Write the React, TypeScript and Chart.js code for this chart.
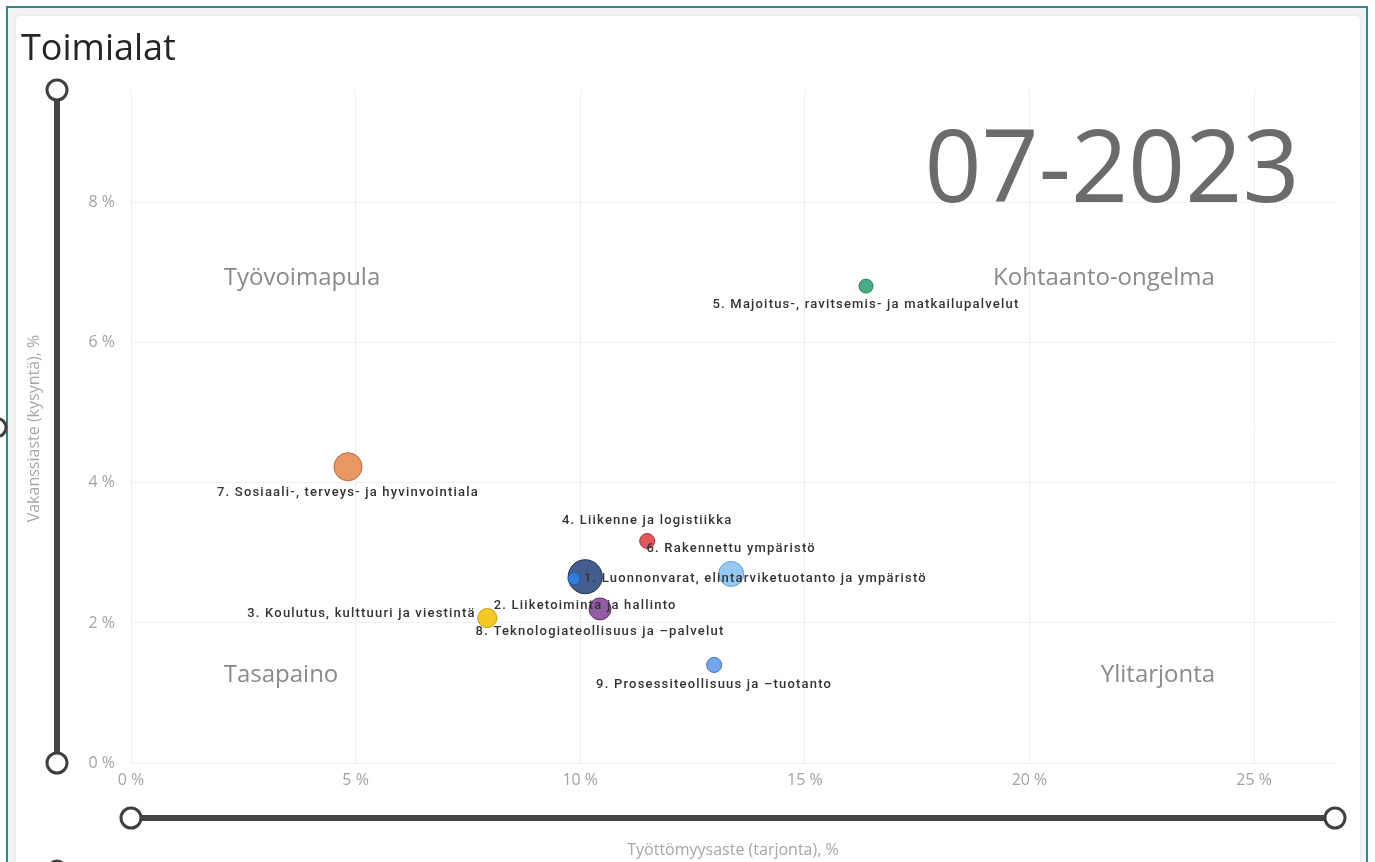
import React, { useEffect, useRef } from "react";
import { Chart, registerables } from "chart.js";

Chart.register(...registerables);

// ---------- data ----------
const industries = [
  "1. Luonnonvarat, elintarviketuotanto ja ympäristö",
  "2. Liiketoiminta ja hallinto",
  "3. Koulutus, kulttuuri ja viestintä",
  "4. Liikenne ja logistiikka",
  "5. Majoitus-, ravitsemis- ja matkailupalvelut",
  "6. Rakennettu ympäristö",
  "7. Sosiaali-, terveys- ja hyvinvointiala",
  "8. Teknologiateollisuus ja –palvelut",
  "9. Prosessiteollisuus ja –tuotanto",
];
const unemploymentRate = [9.86, 10.11, 7.93, 11.49, 16.36, 13.36, 4.83, 10.44, 12.98];
const vacancyRate = [2.63, 2.66, 2.07, 3.17, 6.81, 2.7, 4.23, 2.2, 1.4];
const bubbleSize = [6, 17, 9.5, 7.5, 7, 12.5, 14, 11, 7.5];
const fillColors = [
  "rgba(47,127,224,0.95)",
  "rgba(52,78,132,0.92)",
  "rgba(245,197,24,0.95)",
  "rgba(224,72,79,0.92)",
  "rgba(58,165,122,0.92)",
  "rgba(140,196,242,0.92)",
  "rgba(232,146,91,0.95)",
  "rgba(138,78,156,0.92)",
  "rgba(109,159,232,0.95)",
];
const borderColors = [
  "#1f5fb0", "#1d2d55", "#c79c00", "#a8323a", "#267d5a",
  "#5f9fd6", "#b8693a", "#5e2f70", "#3f6fc0",
];
const labelPlacement = ["right", "below", "left", "above", "below", "above", "below", "below", "below"];
const xTickValues = [0, 5, 10, 15, 20, 25];
const yTickValues = [0, 2, 4, 6, 8];
const xAxisMax = 26.8;
const yAxisMax = 9.61;
const xAxisTitle = "Työttömyysaste (tarjonta), %";
const yAxisTitle = "Vakanssiaste (kysyntä), %";
const chartTitle = "Toimialat";
const periodLabel = "07-2023";
const quadrantLabels = ["Työvoimapula", "Kohtaanto-ongelma", "Tasapaino", "Ylitarjonta"];

const W = 1375;
const H = 862;
const SANS = "'Open Sans', 'Segoe UI', sans-serif";
const LABEL_FONT = "500 13px Roboto, 'Open Sans', sans-serif";

function circle(ctx: CanvasRenderingContext2D, x: number, y: number, r: number) {
  ctx.beginPath();
  ctx.arc(x, y, r, 0, Math.PI * 2);
  ctx.fillStyle = "#ffffff";
  ctx.fill();
  ctx.lineWidth = 3;
  ctx.strokeStyle = "#3f3f3f";
  ctx.stroke();
}

const overlayPlugin = {
  id: "overlay",
  beforeDatasetsDraw(chart: any) {
    const { ctx, chartArea: a } = chart;
    ctx.save();
    // quadrant labels
    ctx.fillStyle = "#8a8a8a";
    ctx.font = `24px ${SANS}`;
    ctx.textAlign = "center";
    ctx.textBaseline = "alphabetic";
    ctx.fillText(quadrantLabels[0], a.left + 171, a.top + 195);
    ctx.fillText(quadrantLabels[1], a.right - 231, a.top + 195);
    ctx.fillText(quadrantLabels[2], a.left + 150, a.bottom - 81);
    ctx.fillText(quadrantLabels[3], a.right - 177, a.bottom - 81);
    // period
    ctx.fillStyle = "#6b6b6b";
    ctx.font = `100px ${SANS}`;
    ctx.fillText(periodLabel, a.right - 223, a.top + 112);
    ctx.restore();
  },
  afterDatasetsDraw(chart: any) {
    const { ctx } = chart;
    const xs = chart.scales.x;
    const ys = chart.scales.y;
    ctx.save();
    ctx.font = LABEL_FONT;
    (ctx as any).letterSpacing = "1.2px";
    ctx.fillStyle = "#333333";
    ctx.textBaseline = "middle";
    industries.forEach((name, i) => {
      const px = xs.getPixelForValue(unemploymentRate[i]);
      const py = ys.getPixelForValue(vacancyRate[i]);
      const r = bubbleSize[i];
      const p = labelPlacement[i];
      if (p === "below") {
        ctx.textAlign = "center";
        ctx.fillText(name, px, py + r + 12);
      } else if (p === "above") {
        ctx.textAlign = "center";
        ctx.fillText(name, px, py - r - 13);
      } else if (p === "left") {
        ctx.textAlign = "right";
        ctx.fillText(name, px - r - 2, py - 4);
      } else {
        ctx.textAlign = "left";
        ctx.fillText(name, px + r + 4, py);
      }
    });
    ctx.restore();
  },
  afterDraw(chart: any) {
    const { ctx, chartArea: a } = chart;
    ctx.save();
    // title
    ctx.fillStyle = "#252525";
    ctx.font = `36px ${SANS}`;
    ctx.textAlign = "left";
    ctx.textBaseline = "alphabetic";
    ctx.fillText(chartTitle, 21, 60);
    // axis titles
    ctx.fillStyle = "#a6a6a6";
    ctx.font = `16px ${SANS}`;
    ctx.textAlign = "center";
    ctx.textBaseline = "middle";
    ctx.fillText(xAxisTitle, (a.left + a.right) / 2, 850);
    ctx.save();
    ctx.translate(34, (a.top + a.bottom) / 2 + 2);
    ctx.rotate(-Math.PI / 2);
    ctx.fillText(yAxisTitle, 0, 0);
    ctx.restore();
    // vertical slider
    ctx.lineCap = "butt";
    ctx.strokeStyle = "#444444";
    ctx.lineWidth = 6;
    ctx.beginPath();
    ctx.moveTo(57, a.top);
    ctx.lineTo(57, a.bottom);
    ctx.stroke();
    circle(ctx, 57, a.top, 10);
    circle(ctx, 57, a.bottom, 10);
    // horizontal slider
    ctx.strokeStyle = "#444444";
    ctx.lineWidth = 6;
    ctx.beginPath();
    ctx.moveTo(a.left, 818);
    ctx.lineTo(a.right, 818);
    ctx.stroke();
    circle(ctx, a.left, 818, 10);
    circle(ctx, a.right, 818, 10);
    // partial handles at edges
    circle(ctx, -3, (a.top + a.bottom) / 2 + 1, 9);
    circle(ctx, 57, 870, 9);
    ctx.restore();
  },
};

export default function App() {
  const canvasRef = useRef<HTMLCanvasElement | null>(null);

  useEffect(() => {
    if (!canvasRef.current) return;
    const datasets = industries.map((name, i) => ({
      label: name,
      data: [{ x: unemploymentRate[i], y: vacancyRate[i], r: bubbleSize[i] }],
      backgroundColor: fillColors[i],
      borderColor: borderColors[i],
      borderWidth: 1,
    }));
    const tickFont = { family: "'Open Sans', sans-serif", size: 16 };
    const chart = new Chart(canvasRef.current, {
      type: "bubble",
      data: { datasets },
      options: {
        animation: false,
        responsive: false,
        events: [],
        layout: { padding: { top: 90, right: 40, left: 0, bottom: 0 } },
        plugins: { legend: { display: false }, tooltip: { enabled: false }, title: { display: false } },
        scales: {
          x: {
            type: "linear",
            min: 0,
            max: xAxisMax,
            afterBuildTicks: (s: any) => {
              s.ticks = xTickValues.map((v) => ({ value: v }));
            },
            afterFit: (s: any) => {
              s.height = 99;
            },
            ticks: {
              color: "#a3a3a3",
              font: tickFont,
              padding: 8,
              maxRotation: 0,
              callback: (v: any) => `${v} %`,
            },
            grid: { color: "#efefef", drawTicks: false, lineWidth: 1 },
            border: { display: false },
          },
          y: {
            type: "linear",
            min: 0,
            max: yAxisMax,
            afterBuildTicks: (s: any) => {
              s.ticks = yTickValues.map((v) => ({ value: v }));
            },
            afterFit: (s: any) => {
              s.width = 131;
            },
            ticks: {
              color: "#a3a3a3",
              font: tickFont,
              padding: 16,
              callback: (v: any) => `${v} %`,
            },
            grid: { color: "#efefef", drawTicks: false, lineWidth: 1 },
            border: { display: false },
          },
        },
      },
      plugins: [overlayPlugin],
    } as any);
    return () => chart.destroy();
  }, []);

  return (
    <div style={{ position: "absolute", left: 0, top: 0, width: W, height: H, overflow: "hidden", background: "#ffffff" }}>
      <div
        style={{
          position: "absolute",
          left: 6,
          top: 6,
          width: 1358,
          height: 900,
          border: "2px solid #2b8a8a",
          background: "#f2f2f2",
        }}
      >
        <div
          style={{
            position: "absolute",
            left: 8,
            top: 8,
            right: 6,
            bottom: 0,
            background: "#ffffff",
            borderRadius: 4,
            boxShadow: "0 0 3px rgba(0,0,0,0.08)",
          }}
        />
      </div>
      <canvas ref={canvasRef} width={W} height={H} style={{ position: "absolute", left: 0, top: 0, width: W, height: H }} />
    </div>
  );
}
